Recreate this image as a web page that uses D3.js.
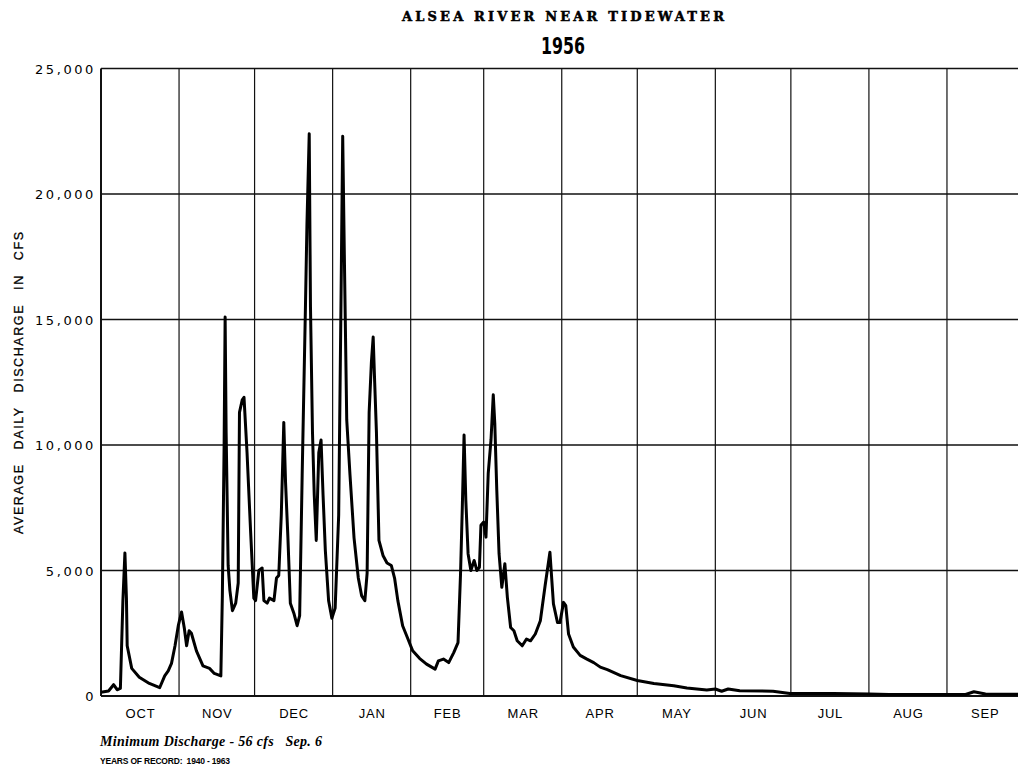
<!DOCTYPE html>
<html>
<head>
<meta charset="utf-8">
<script src="https://cdn.jsdelivr.net/npm/d3@7"></script>
<style>
  body { margin: 0; background: #fff; }
</style>
</head>
<body>
<div id="chart"></div>
<script>
var w = 1018;
var h = 766;

// water year 1956, Oct 1955 - Sep 1956
var months = ["OCT","NOV","DEC","JAN","FEB","MAR","APR","MAY","JUN","JUL","AUG","SEP"];
var monthDays = [31,30,31,31,29,31,30,31,30,31,31,30];
var yTicks = [0,5000,10000,15000,20000,25000];

// days since Oct 1 and average daily discharge (cfs)
var flowDay = [0,3,5,6.4,7.7,8.7,9.5,10.1,10.4,12.2,15.2,19.2,23.3,25.3,26.7,28,29.4,
  30.7,32,33.1,34,35,35.9,37.9,40.5,43.1,45,47.6,48.2,48.9,49.3,49.7,50.5,51.2,52.2,53.5,54.5,55,56.1,56.8,58,59.4,
  60.7,61.4,62.7,64,64.7,66,66.9,68.7,69.7,70.6,71.6,72.6,73.3,74.2,75.2,76.6,77.9,78.9,79.9,81.2,81.8,82.7,83.2,84,84.7,85.5,86.5,87.4,88.2,89.1,90.4,91.7,
  93,94.4,95.3,96,96.7,97.6,98.9,100.5,102.2,103.5,104.8,105.7,106.5,107.4,108.1,108.7,109.4,110.4,112,113.6,115.3,116.6,117.9,119.8,121.8,
  123.8,126.5,129.3,132.7,134,136,138.1,140.1,141.8,142.8,143.5,144.2,144.9,145.8,146.9,148.2,149.3,150.3,150.9,
  152,152.9,153.8,154.9,155.8,156.4,157.2,158.1,159.2,160.4,161.4,162.7,164,165.3,167.3,169,170.6,172.5,174.5,176.4,178.3,179.7,181.3,182.3,
  183.7,184.6,185.7,187.6,190.3,193,195.7,198.3,201.1,206.4,213,219.6,227.5,232.7,240.6,244,246.5,249.1,253.7,266.9,273.6,
  290.9,305,313,326.2,341,343.4,346.7,351.3,363.6,366];
var flowCfs = [150,200,450,250,300,3800,5700,3900,2000,1100,750,500,330,800,1000,1300,2000,
  2800,3350,2700,2000,2600,2500,1800,1200,1100,900,800,4000,10000,15100,10500,5200,4200,3400,3700,4500,11300,11800,11900,9700,6600,
  3900,3800,5000,5100,3800,3700,3900,3800,4700,4800,7200,10900,8500,6400,3700,3300,2800,3200,8800,15500,18800,22400,15500,10500,8000,6200,9700,10200,8000,5800,3800,3100,
  3500,7200,15500,22300,17200,11000,8800,6300,4700,4000,3800,4900,11300,13300,14300,12500,10500,6200,5600,5300,5200,4700,3800,2800,2300,
  1800,1500,1270,1070,1400,1470,1330,1730,2130,4870,7500,10400,7800,5670,5000,5400,5000,5130,6800,
  6930,6330,8870,10200,12000,10870,8200,5670,4330,5270,3930,2730,2600,2200,2000,2270,2200,2470,3000,4400,5730,3670,2930,2930,
  3730,3600,2470,1950,1620,1470,1330,1150,1050,810,620,500,410,320,240,280,190,280,210,190,100,
  100,80,60,60,56,60,170,80,70,70];

var svg = d3.select("#chart").append("svg").attr("width", w).attr("height", h);

var x = d3.scaleLinear().domain([0, 366]).range([101, 1022.5]);
var y = d3.scaleLinear().domain([0, 25000]).range([696, 68.5]);

var monthStart = [0];
for (var i = 0; i < monthDays.length; i++) {
  monthStart.push(monthStart[i] + monthDays[i]);
}

function disptext(tex, px, py, size, fam, anchor) {
  var t = svg.append("text")
    .text(tex)
    .attr("x", px)
    .attr("y", py)
    .attr("font-size", size)
    .attr("font-family", fam)
    .attr("text-anchor", anchor)
    .attr("fill", "#000");
  return t;
}

// grid: horizontal lines
svg.selectAll("line.hgrid").data(yTicks).enter().append("line")
  .attr("class", "hgrid")
  .attr("x1", x(0)).attr("x2", w)
  .attr("y1", function(d) { return y(d); })
  .attr("y2", function(d) { return y(d); })
  .attr("stroke", "#111")
  .attr("stroke-width", function(d) { return d == 0 ? 2 : 1.3; });

// grid: month boundaries
svg.selectAll("line.vgrid").data(monthStart.slice(0, 12)).enter().append("line")
  .attr("class", "vgrid")
  .attr("x1", function(d) { return x(d); })
  .attr("x2", function(d) { return x(d); })
  .attr("y1", y(25000)).attr("y2", y(0))
  .attr("stroke", "#111")
  .attr("stroke-width", function(d) { return d == 0 ? 2 : 1.2; });

// y tick labels
svg.selectAll("text.ytick").data(yTicks).enter().append("text")
  .attr("class", "ytick")
  .attr("x", 96)
  .attr("y", function(d) { return y(d) + 5; })
  .attr("text-anchor", "end")
  .attr("font-size", 13)
  .attr("font-family", "DejaVu Sans")
  .attr("letter-spacing", 2.6)
  .attr("fill", "#000")
  .text(function(d) { return d3.format(",")(d); });

// month labels
svg.selectAll("text.month").data(months).enter().append("text")
  .attr("class", "month")
  .attr("x", function(d, i) { return x(monthStart[i] + monthDays[i] / 2) + 0.5; })
  .attr("y", 718)
  .attr("text-anchor", "middle")
  .attr("font-size", 13)
  .attr("font-family", "Liberation Sans")
  .attr("letter-spacing", 0.8)
  .attr("fill", "#000")
  .text(function(d) { return d; });

// discharge line
var pts = flowDay.map(function(d, i) { return [d, flowCfs[i]]; });
var line = d3.line()
  .x(function(d) { return x(d[0]); })
  .y(function(d) { return y(d[1]); });

svg.append("path")
  .attr("d", line(pts))
  .attr("fill", "none")
  .attr("stroke", "#000")
  .attr("stroke-width", 3)
  .attr("stroke-linejoin", "round");

// titles
disptext("ALSEA RIVER NEAR TIDEWATER", 563, 21, 13, "DejaVu Serif", "middle")
  .attr("font-weight", "bold")
  .attr("stroke", "#000")
  .attr("stroke-width", 0.5)
  .attr("textLength", 322)
  .attr("lengthAdjust", "spacing");
disptext("1956", 563, 54, 23, "DejaVu Sans Condensed", "middle")
  .attr("font-weight", "bold")
  .attr("textLength", 44)
  .attr("lengthAdjust", "spacingAndGlyphs");

disptext("AVERAGE DAILY DISCHARGE IN CFS", 0, 0, 12.5, "Liberation Sans", "middle")
  .attr("transform", "translate(23,383) rotate(-90)")
  .attr("stroke", "#000")
  .attr("stroke-width", 0.3)
  .attr("textLength", 302)
  .attr("lengthAdjust", "spacing")
  .attr("word-spacing", 9);

disptext("Minimum Discharge - 56 cfs   Sep. 6", 100, 746, 14, "Liberation Serif", "start")
  .attr("font-style", "italic")
  .attr("font-weight", "bold")
  .attr("xml:space", "preserve")
  .attr("textLength", 222)
  .attr("lengthAdjust", "spacing");
disptext("YEARS OF RECORD:  1940 - 1963", 100, 764, 8.5, "Liberation Sans", "start")
  .attr("font-weight", "bold")
  .attr("xml:space", "preserve")
  .attr("textLength", 130)
  .attr("lengthAdjust", "spacing");
</script>
</body>
</html>
